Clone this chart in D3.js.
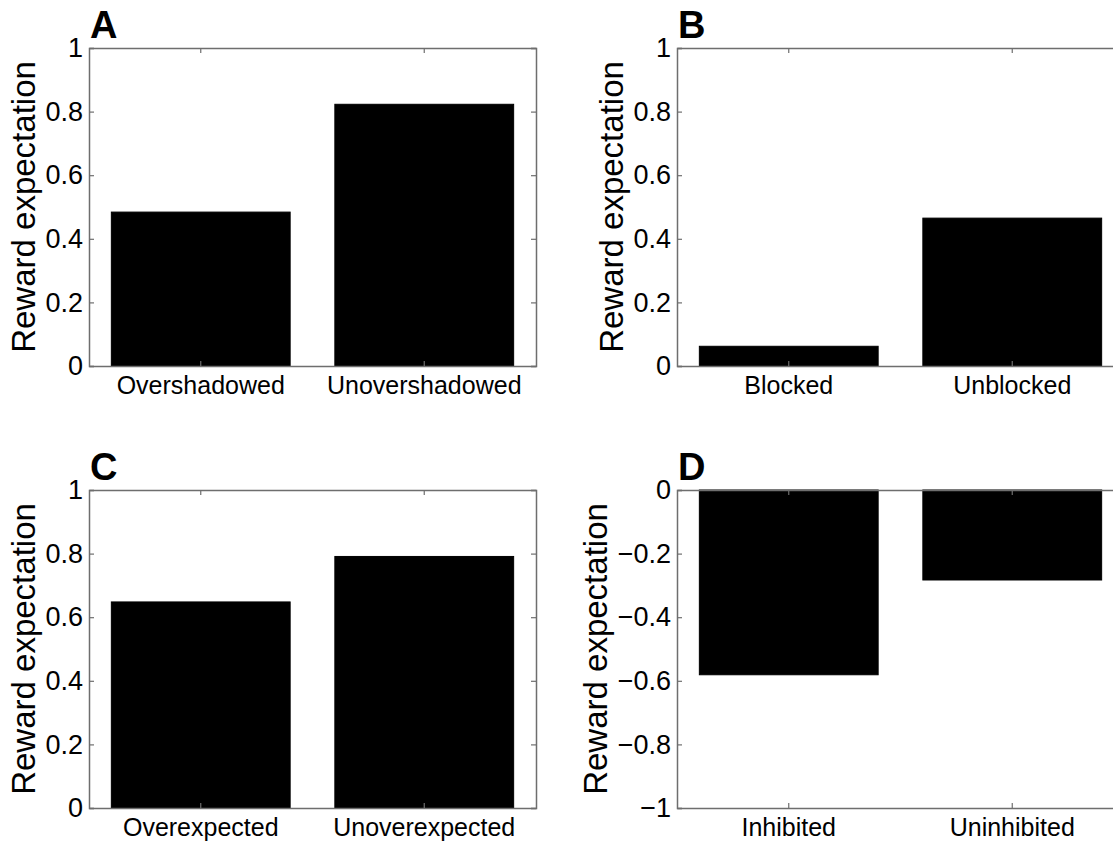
<!DOCTYPE html>
<html>
<head>
<meta charset="utf-8">
<script src="https://cdn.jsdelivr.net/npm/d3@7"></script>
<style>
  html, body { margin: 0; padding: 0; background: #fff; }
  svg { display: block; }
  text { font-family: "Liberation Sans", Arial, sans-serif; fill: #000; }
</style>
</head>
<body>
<svg id="chart" width="1113" height="841"></svg>
<script>
// ---- data ----
const panelLabels = ["A", "B", "C", "D"];
const categoriesA = ["Overshadowed", "Unovershadowed"];
const valuesA = [0.484, 0.823];
const categoriesB = ["Blocked", "Unblocked"];
const valuesB = [0.062, 0.465];
const categoriesC = ["Overexpected", "Unoverexpected"];
const valuesC = [0.648, 0.791];
const categoriesD = ["Inhibited", "Uninhibited"];
const valuesD = [-0.581, -0.283];
const yTicksPositive = [0, 0.2, 0.4, 0.6, 0.8, 1];
const yTicksNegative = [-1, -0.8, -0.6, -0.4, -0.2, 0];
const yLabel = "Reward expectation";

// ---- layout ----
const W = 447, H = 318;
const origins = [[89, 48], [677, 48], [89, 490], [677, 490]];
const panels = [
  { label: panelLabels[0], cats: categoriesA, vals: valuesA, domain: [0, 1], ticks: yTicksPositive },
  { label: panelLabels[1], cats: categoriesB, vals: valuesB, domain: [0, 1], ticks: yTicksPositive },
  { label: panelLabels[2], cats: categoriesC, vals: valuesC, domain: [0, 1], ticks: yTicksPositive },
  { label: panelLabels[3], cats: categoriesD, vals: valuesD, domain: [-1, 0], ticks: yTicksNegative }
];

const svg = d3.select("#chart");
svg.append("rect").attr("width", 1113).attr("height", 841).attr("fill", "#fff");

const axisColor = "#6e6e6e";
const tickLen = 5;
const fmt = v => (v === 0 ? "0" : (v === 1 ? "1" : (v === -1 ? "\u22121" : d3.format(".1f")(v).replace("-", "\u2212"))));

panels.forEach((p, i) => {
  const [ox, oy] = origins[i];
  const g = svg.append("g").attr("transform", `translate(${ox},${oy})`);

  const x = d3.scaleBand().domain(p.cats).range([0, W]).paddingInner(0.2).paddingOuter(0.1);
  const y = d3.scaleLinear().domain(p.domain).range([H, 0]);

  // bars
  g.selectAll("rect.bar").data(p.vals).join("rect")
    .attr("class", "bar")
    .attr("x", (d, j) => x(p.cats[j]))
    .attr("width", x.bandwidth())
    .attr("y", d => Math.min(y(0), y(d)))
    .attr("height", d => Math.abs(y(d) - y(0)))
    .attr("fill", "#000")
    .attr("stroke", "#000")
    .attr("stroke-width", 1);

  // axes (left with labels, others as inner ticks)
  const left = g.append("g").call(d3.axisLeft(y).tickValues(p.ticks).tickSize(-tickLen).tickPadding(6).tickFormat(fmt));
  const right = g.append("g").attr("transform", `translate(${W},0)`)
    .call(d3.axisRight(y).tickValues(p.ticks).tickSize(-tickLen).tickFormat(""));
  const bottom = g.append("g").attr("transform", `translate(0,${H})`)
    .call(d3.axisBottom(x).tickSize(-tickLen).tickPadding(10).tickSizeOuter(0));
  const top = g.append("g")
    .call(d3.axisTop(x).tickSize(-tickLen).tickFormat("").tickSizeOuter(0));

  [left, right, bottom, top].forEach(a => {
    a.selectAll("path.domain").attr("stroke", axisColor).attr("stroke-width", 1.5);
    a.selectAll(".tick line").attr("stroke", axisColor).attr("stroke-width", 1.2);
  });
  left.attr("font-size", 27);
  left.selectAll(".tick text").attr("font-size", 27).attr("font-family", "Liberation Sans, Arial, sans-serif").attr("fill", "#000");
  bottom.attr("font-size", 25);
  bottom.selectAll(".tick text").attr("font-size", 25).attr("font-family", "Liberation Sans, Arial, sans-serif").attr("fill", "#000").attr("dy", "0.71em");

  // y label placed left of the widest tick label (as MATLAB does)
  let maxW = 0;
  left.selectAll(".tick text").each(function () { maxW = Math.max(maxW, this.getComputedTextLength()); });
  const labelX = -(maxW + 6 + 10.5);
  g.append("text")
    .attr("transform", `translate(${labelX},${H / 2}) rotate(-90)`)
    .attr("text-anchor", "middle")
    .attr("font-size", 33)
    .text(yLabel);

  // panel letter
  g.append("text")
    .attr("x", 1)
    .attr("y", -10)
    .attr("font-size", 38)
    .attr("font-weight", "bold")
    .text(p.label);
});
</script>
</body>
</html>
